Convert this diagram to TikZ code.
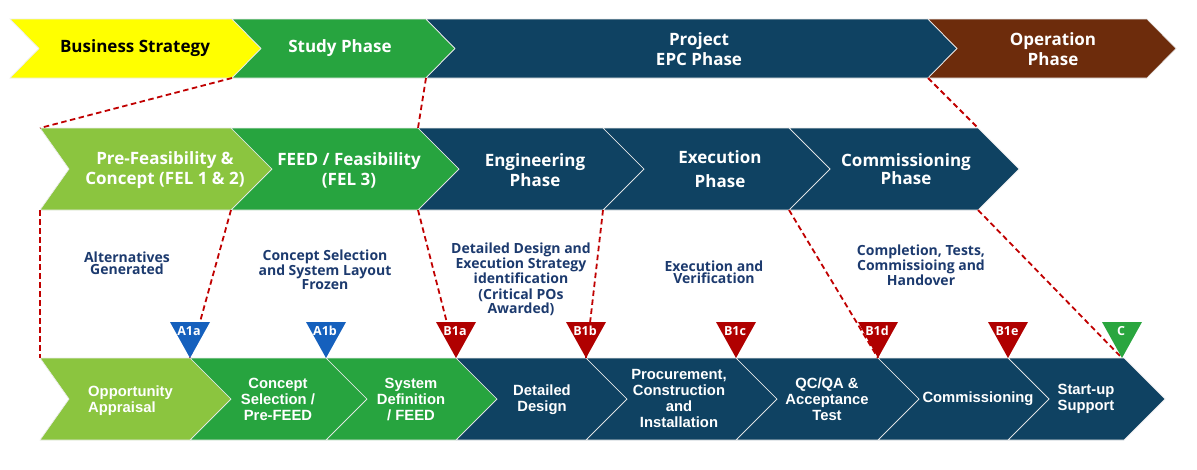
\documentclass[tikz,border=0pt]{standalone}
\usepackage{fontspec}
\newfontfamily\headfont{Open Sans}
\newfontfamily\arialfont{Liberation Sans}
\definecolor{cyellow}{HTML}{FFFF00}
\definecolor{cgreen}{HTML}{27A43F}
\definecolor{clime}{HTML}{8BC53F}
\definecolor{cnavy}{HTML}{0F4262}
\definecolor{cbrown}{HTML}{6D2C0C}
\definecolor{cred}{HTML}{C00000}
\definecolor{cblue}{HTML}{1560BD}
\definecolor{ctred}{HTML}{B00000}
\definecolor{ctgreen}{HTML}{2AA63F}
\definecolor{ctext}{HTML}{1C3A6E}
\tikzset{
 chevline/.style={draw=white!85!gray, line width=0.7pt},
 toptext/.style={font=\headfont\bfseries\fontsize{17}{20}\selectfont, text=white, align=center, inner sep=0pt},
 midtext/.style={font=\headfont\bfseries\fontsize{17}{20}\selectfont, text=white, align=center, inner sep=0pt},
 bottext/.style={font=\arialfont\bfseries\fontsize{14.8}{16}\selectfont, text=white, align=center, inner sep=0pt},
 notetext/.style={font=\headfont\bfseries\fontsize{14}{12.3}\selectfont, text=ctext, align=center, inner sep=0pt},
 reddash/.style={draw=cred, line width=1.8pt, dash pattern=on 5.5pt off 3.5pt},
 trilabel/.style={font=\headfont\bfseries\fontsize{12.5}{13}\selectfont, text=white, inner sep=0pt},
}
% #1 L, #2 R, #3 T, #4 B, #5 notch depth, #6 tip depth, #7 colour
\newcommand\chevshape[7]{%
 \filldraw[fill=#7, chevline] (#1,#3) -- (#2,#3) -- ({#2+#6},{(#3+#4)/2}) -- (#2,#4) -- (#1,#4) -- ({#1+#5},{(#3+#4)/2}) -- cycle;}
% #1 name, #2 x of tip, #3 colour, #4 label
\newcommand\gatetri[4]{%
 \fill[#3] ({#2-20},322) -- ({#2+20},322) -- (#2,358) -- cycle;
 \node[trilabel] (#1) at ({#2-1},331) {#4};}
\begin{document}
\begin{tikzpicture}[x=1pt,y=-1pt]
\useasboundingbox (0,0) rectangle (1197,469);
% ---------- top row
\chevshape{10}{232}{19}{78}{29}{29}{cyellow}
\chevshape{232}{426}{19}{78}{29}{29}{cgreen}
\chevshape{426}{928}{19}{78}{29}{29}{cnavy}
\chevshape{928}{1147}{19}{78}{29}{29}{cbrown}
% ---------- middle row
\chevshape{40}{231}{128}{210}{29}{41}{clime}
\chevshape{231}{418}{128}{210}{41}{41}{cgreen}
\chevshape{418}{603}{128}{210}{41}{41}{cnavy}
\chevshape{603}{789}{128}{210}{41}{41}{cnavy}
\chevshape{789}{978}{128}{210}{41}{41}{cnavy}
% ---------- bottom row
\chevshape{40}{190}{358}{440}{29}{41}{clime}
\chevshape{190}{326}{358}{440}{41}{41}{cgreen}
\chevshape{326}{456}{358}{440}{41}{41}{cgreen}
\chevshape{456}{586}{358}{440}{41}{41}{cnavy}
\chevshape{586}{736}{358}{440}{41}{41}{cnavy}
\chevshape{736}{878}{358}{440}{41}{41}{cnavy}
\chevshape{878}{1008}{358}{440}{41}{41}{cnavy}
\chevshape{1008}{1124}{358}{440}{41}{41}{cnavy}
% ---------- named points
\coordinate (tb12) at (232,78);
\coordinate (tb23) at (426,78);
\coordinate (tb34) at (928,78);
\coordinate (mt1) at (40,128);
\coordinate (mt23) at (418,128);
\coordinate (mt5) at (978,128);
\coordinate (mb1) at (40,210);
\coordinate (mb12) at (231,210);
\coordinate (mb23) at (418,210);
\coordinate (mb34) at (603,210);
\coordinate (mb45) at (789,210);
\coordinate (mb5) at (978,210);
\coordinate (bt1) at (40,358);
\coordinate (tA1a) at (190,358);
\coordinate (tB1a) at (456,358);
\coordinate (tB1b) at (586,358);
\coordinate (tB1d) at (878,358);
\coordinate (tC) at (1122,358);
% ---------- dashed connectors
\draw[reddash] (tb12) -- (mt1);
\draw[reddash] (tb23) -- (mt23);
\draw[reddash] (tb34) -- (mt5);
\draw[reddash] (mb1) -- (bt1);
\draw[reddash] (mb12) -- (tA1a);
\draw[reddash] (mb23) -- (tB1a);
\draw[reddash] (mb34) -- (tB1b);
\draw[reddash] (mb45) -- (tB1d);
\draw[reddash] (mb5) -- (tC);
% ---------- milestone triangles
\gatetri{A1a}{190}{cblue}{A1a}
\gatetri{A1b}{326}{cblue}{A1b}
\gatetri{B1a}{456}{ctred}{B1a}
\gatetri{B1b}{586}{ctred}{B1b}
\gatetri{B1c}{736}{ctred}{B1c}
\gatetri{B1d}{878}{ctred}{B1d}
\gatetri{B1e}{1008}{ctred}{B1e}
\gatetri{C}{1122}{ctgreen}{C}
% ---------- top texts
\node[toptext, text=black] (bs) at (135,48) {Business Strategy};
\node[toptext] (sp) at (340,48) {Study Phase};
\node[toptext] (epc) at (699,49) {Project\\EPC Phase};
\node[toptext] (op) at (1053,49) {Operation\\Phase};
% ---------- middle texts
\node[midtext] (pf) at (165,170) {Pre-Feasibility \&\\Concept (FEL 1 \& 2)};
\node[midtext] (feed) at (349,170) {FEED / Feasibility\\(FEL 3)};
\node[midtext] (eng) at (535,170) {Engineering\\Phase};
\node[midtext, font=\headfont\bfseries\fontsize{17}{24}\selectfont] (exe) at (720,169) {Execution\\Phase};
\node[midtext, font=\headfont\bfseries\fontsize{17}{18}\selectfont] (com) at (906,169) {Commissioning\\Phase};
% ---------- notes
\node[notetext] (n1) at (127,263) {Alternatives\\Generated};
\node[notetext] (n2) at (325,270) {Concept Selection\\and System Layout\\Frozen};
\node[notetext] (n3) at (521,263) {Detailed Design and\\Execution Strategy\\identification};
\node[notetext] (n3b) at (521,302) {(Critical POs\\Awarded)};
\node[notetext] (n4) at (714,272) {Execution and\\Verification};
\node[notetext] (n5) at (921,265) {Completion, Tests,\\Commissioing and\\Handover};
% ---------- bottom texts
\node[bottext, align=left, anchor=west] (b1) at (88,401) {Opportunity\\Appraisal};
\node[bottext] (b2) at (278,399) {Concept\\Selection /\\Pre-FEED};
\node[bottext] (b3) at (411,399) {System\\Definition\\/ FEED};
\node[bottext] (b4) at (542,400) {Detailed\\Design};
\node[bottext] (b5) at (679,398) {Procurement,\\Construction\\and\\Installation};
\node[bottext] (b6) at (827,399) {QC/QA \&\\Acceptance\\Test};
\node[bottext] (b7) at (978,399) {Commissioning};
\node[bottext] (b8) at (1086,399) {Start-up\\Support};
\end{tikzpicture}
\end{document}
